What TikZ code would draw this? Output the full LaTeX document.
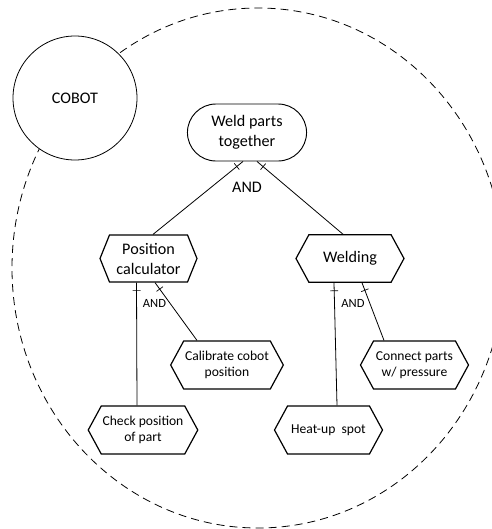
\documentclass[tikz,border=0pt]{standalone}
\usepackage{fontspec}
\setmainfont{Carlito}
\usetikzlibrary{calc,shapes.symbols,shapes.misc,decorations.markings}

\tikzset{
  task/.style={signal, signal to=east and west, draw, line width=0.9pt, align=center,
    inner sep=1pt, minimum width=81pt, minimum height=36pt, signal pointer angle=123,
    font=\fontsize{10.2}{12.4}\selectfont},
  bigtask/.style={task, font=\fontsize{12.1}{15}\selectfont},
  link/.style={line width=0.6pt},
  andtick/.style={postaction={decorate}, decoration={markings,
    mark=at position 6pt with {\draw[line width=0.5pt] (0,-3pt) -- (0,3pt);}}},
}

\begin{document}
\begin{tikzpicture}[x=0.75pt,y=-0.75pt]
\useasboundingbox (0,0) rectangle (492,529);

%System boundary
\draw[line width=0.6pt, dash pattern=on 6pt off 3.8pt] (258,268) ellipse [x radius=246, y radius=260];

%Actor
\node[circle, draw, fill=white, line width=0.6pt, minimum size=93pt, font=\fontsize{12.1}{15}\selectfont] (cobot) at (75,98) {COBOT};

%Goal and tasks
\node[rounded rectangle, draw, line width=0.7pt, align=center, minimum width=96pt, minimum height=42.75pt,
  font=\fontsize{12.1}{15}\selectfont] (weld) at (247,132.5) {Weld parts\\together};
\node[bigtask, minimum width=72.75pt, minimum height=35.25pt, signal pointer angle=136] (pos) at (148.5,258.5) {Position\\calculator};
\node[bigtask, minimum height=35.5pt] (wld) at (350,258.5) {Welding};
\node[task] (cal) at (227,365) {Calibrate cobot\\position};
\node[task] (chk) at (143,430) {Check position\\of part};
\node[task] (con) at (414.5,365) {Connect parts\\w/ pressure};
\node[task] (heat) at (328.5,430) {Heat-up\ \ spot};

%Decomposition links
\draw[link, andtick] ($(weld.south)+(-4,0)$) -- ($(pos.north)+(4.5,0)$);
\draw[link, andtick] ($(weld.south)+(10,0)$) -- ($(wld.north)+(-7,0)$);
\draw[link, andtick] ($(pos.south)+(-12,0)$) -- ($(chk.north)+(-6,0)$);
\draw[link, andtick] ($(pos.south)+(6.5,0)$) -- ($(cal.north)+(-30,0)$);
\draw[link, andtick] ($(wld.south)+(-16,0)$) -- ($(heat.north)+(8.5,0)$);
\draw[link, andtick] ($(wld.south)+(12,0)$) -- ($(con.north)+(-30.5,0)$);

%AND labels
\node[font=\fontsize{12.1}{15}\selectfont] (and1) at (247,187) {AND};
\node[font=\fontsize{9.4}{11}\selectfont] (and2) at (154.5,303) {AND};
\node[font=\fontsize{9.4}{11}\selectfont] (and3) at (353,303) {AND};
\end{tikzpicture}
\end{document}
